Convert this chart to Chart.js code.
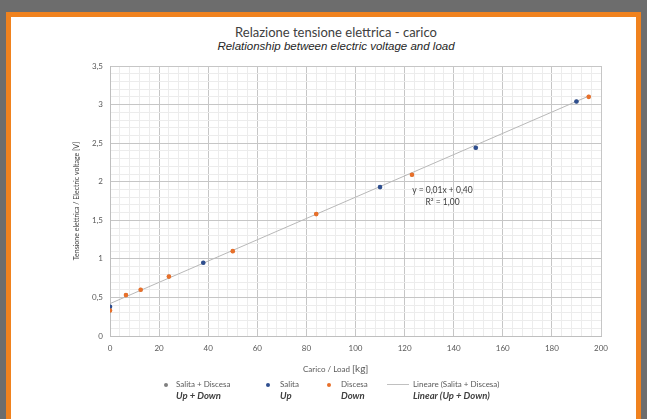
<!DOCTYPE html>
<html>
<head>
<meta charset="utf-8">
<script src="https://cdn.jsdelivr.net/npm/chart.js@4.4.0/dist/chart.umd.min.js"></script>
<style>
  body { margin:0; background:#6d6d6d; width:647px; height:419px; overflow:hidden; position:relative; font-family:Lato, sans-serif; }
  #frame { position:absolute; left:6px; top:12px; width:635px; height:420px; box-sizing:border-box; border:5px solid #f0821e; border-bottom:none; background:#fff; }
  #c { position:absolute; left:0; top:0; }
  .t { position:absolute; white-space:nowrap; color:#404040; }
  .leg1 { position:absolute; font-size:8px; color:#595959; white-space:nowrap; }
  .leg2 { position:absolute; font-size:9.5px; font-style:italic; font-weight:bold; color:#404040; white-space:nowrap; }
  .dot { position:absolute; width:4px; height:4px; border-radius:50%; }
</style>
</head>
<body>
<div id="frame"></div>
<div class="t" style="left:0;width:672px;text-align:center;top:24px;font-size:13px;">Relazione tensione elettrica - carico</div>
<div class="t" style="left:0;width:672px;text-align:center;top:40px;font-size:11.5px;font-style:italic;font-family:'Liberation Sans';color:#262626;">Relationship between electric voltage and load</div>
<canvas id="c" width="647" height="419"></canvas>
<div class="t" style="left:395px;top:185px;font-size:8.5px;width:95px;text-align:center;">y = 0,01x + 0,40</div>
<div class="t" style="left:395px;top:197px;font-size:8.5px;width:95px;text-align:center;">R² = 1,00</div>
<div class="t" style="left:303px;top:362px;font-size:8px;color:#595959;">Carico / Load <span style="font-size:10px">[kg]</span></div>

<div class="dot" style="left:164px;top:383px;background:#7f7f7f"></div>
<div class="leg1" style="left:176px;top:379px;">Salita + Discesa</div>
<div class="leg2" style="left:176px;top:390px;">Up + Down</div>
<div class="dot" style="left:266px;top:383px;background:#2f4f8f"></div>
<div class="leg1" style="left:280px;top:379px;">Salita</div>
<div class="leg2" style="left:280px;top:390px;">Up</div>
<div class="dot" style="left:327px;top:383px;background:#e8702a"></div>
<div class="leg1" style="left:341px;top:379px;">Discesa</div>
<div class="leg2" style="left:341px;top:390px;">Down</div>
<div style="position:absolute;left:387px;top:384px;width:22px;height:1px;background:#c0c0c0"></div>
<div class="leg1" style="left:413px;top:379px;">Lineare (Salita + Discesa)</div>
<div class="leg2" style="left:413px;top:390px;">Linear (Up + Down)</div>

<script>
// Salita (up)
var salitaX = [0, 38, 110, 149, 190];
var salitaY = [0.38, 0.95, 1.93, 2.44, 3.04];
// Discesa (down)
var discesaX = [0, 6.5, 12.5, 24, 50, 84, 123, 195];
var discesaY = [0.33, 0.53, 0.60, 0.77, 1.10, 1.58, 2.09, 3.10];
// linear trend (Salita + Discesa)
var trendX = [0, 195];
var trendY = [0.42, 3.11];

function pts(xs, ys) {
  return xs.map(function(x, i) { return {x: x, y: ys[i]}; });
}

var allPts = pts(salitaX, salitaY).concat(pts(discesaX, discesaY));

var tickFont = {family: 'Lato', size: 8};

new Chart(document.getElementById('c').getContext('2d'), {
  type: 'scatter',
  data: {
    datasets: [
      {
        label: 'Lineare (Salita + Discesa)',
        type: 'line',
        data: pts(trendX, trendY),
        borderColor: '#b8b8b8',
        borderWidth: 1,
        pointRadius: 0,
        order: 4
      },
      {
        label: 'Salita + Discesa',
        data: allPts,
        pointRadius: 2,
        backgroundColor: '#8c8c8c',
        borderWidth: 0,
        order: 3
      },
      {
        label: 'Salita',
        data: pts(salitaX, salitaY),
        pointRadius: 2.3,
        backgroundColor: '#2f4f8f',
        borderWidth: 0,
        order: 2
      },
      {
        label: 'Discesa',
        data: pts(discesaX, discesaY),
        pointRadius: 2.3,
        backgroundColor: '#e8702a',
        borderWidth: 0,
        order: 1
      }
    ]
  },
  options: {
    responsive: false,
    animation: false,
    devicePixelRatio: 1,
    layout: { padding: { left: 70, right: 46, top: 66, bottom: 63 } },
    plugins: { legend: { display: false }, tooltip: { enabled: false } },
    scales: {
      x: {
        type: 'linear',
        min: 0, max: 200,
        afterFit: function(s) { s.height = 20; },
        border: { color: '#bfbfbf' },
        grid: {
          drawTicks: false,
          color: function(ctx) { return ctx.tick && Math.round(ctx.tick.value) % 20 == 0 ? '#c6c6c6' : '#ececec'; }
        },
        ticks: {
          stepSize: 4,
          autoSkip: false,
          maxRotation: 0,
          padding: 8,
          color: '#595959',
          font: tickFont,
          callback: function(v) { return Math.round(v) % 20 == 0 ? String(Math.round(v)) : ''; }
        }
      },
      y: {
        min: 0, max: 3.5,
        afterFit: function(s) { s.width = 40; },
        border: { color: '#bfbfbf' },
        grid: {
          drawTicks: false,
          color: function(ctx) { return ctx.tick && Math.round(ctx.tick.value * 10) % 5 == 0 ? '#c6c6c6' : '#ececec'; }
        },
        title: {
          display: true,
          text: 'Tensione elettrica / Electric voltage [V]',
          color: '#404040',
          font: { family: 'Lato', size: 7 },
          padding: { top: 3, bottom: 0 }
        },
        ticks: {
          stepSize: 0.1,
          autoSkip: false,
          padding: 7,
          color: '#595959',
          font: tickFont,
          callback: function(v) {
            var r = Math.round(v * 10);
            if (r % 5 != 0) return '';
            return String(r / 10).replace('.', ',');
          }
        }
      }
    }
  }
});
</script>
</body>
</html>
